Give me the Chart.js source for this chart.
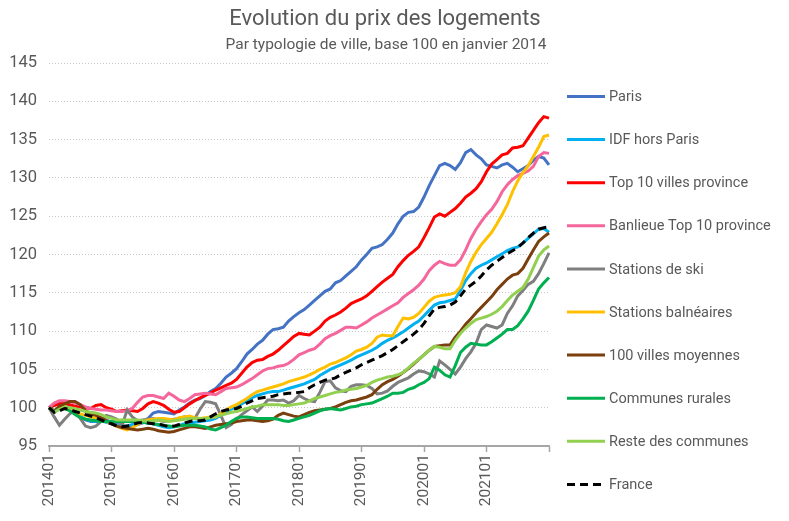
<!DOCTYPE html>
<html>
<head>
<meta charset="utf-8">
<script src="https://cdn.jsdelivr.net/npm/chart.js@4/dist/chart.umd.min.js"></script>
<style>
  html, body { margin: 0; padding: 0; background: #fff; }
  #wrap { width: 789px; height: 521px; position: relative; }
</style>
</head>
<body>
<div id="wrap"><canvas id="prixChart"></canvas></div>
<script>
const months = [
  '201401','201402','201403','201404','201405','201406','201407','201408','201409','201410','201411','201412',
  '201501','201502','201503','201504','201505','201506','201507','201508','201509','201510','201511','201512',
  '201601','201602','201603','201604','201605','201606','201607','201608','201609','201610','201611','201612',
  '201701','201702','201703','201704','201705','201706','201707','201708','201709','201710','201711','201712',
  '201801','201802','201803','201804','201805','201806','201807','201808','201809','201810','201811','201812',
  '201901','201902','201903','201904','201905','201906','201907','201908','201909','201910','201911','201912',
  '202001','202002','202003','202004','202005','202006','202007','202008','202009','202010','202011','202012',
  '202101','202102','202103','202104','202105','202106','202107','202108','202109','202110','202111','202112',
  '202201'
];

const paris = [100,100.3,100.6,100.5,100.0,99.3,98.8,98.4,98.2,98.2,
  98.5,98.4,98.1,97.8,97.6,97.5,97.6,97.8,98.0,98.6,
  99.3,99.5,99.4,99.3,99.2,99.7,100.1,100.6,101.0,101.2,
  101.6,102.1,102.5,103.2,104.0,104.5,105.1,106.0,107.0,107.6,
  108.3,108.8,109.6,110.2,110.3,110.5,111.3,111.9,112.4,112.8,
  113.4,114.0,114.6,115.2,115.5,116.3,116.6,117.2,117.8,118.4,
  119.3,120.0,120.8,121.0,121.3,122.0,122.8,124.0,125.0,125.5,
  125.6,126.2,127.5,129.0,130.3,131.6,131.9,131.6,131.1,132.0,
  133.3,133.7,133.0,132.5,131.7,131.5,131.3,131.7,131.9,131.4,
  130.8,131.2,131.6,132.3,132.8,132.6,131.7];

const idfHorsParis = [100,99.6,99.9,100.2,99.9,99.4,98.9,98.5,98.3,98.2,
  98.3,98.1,97.9,97.7,97.6,97.6,97.8,98.0,98.1,98.0,
  97.9,97.7,97.5,97.4,97.5,97.7,97.9,98.0,98.1,98.2,
  98.3,98.4,98.6,99.0,99.5,99.8,100.1,100.5,100.9,101.3,
  101.6,101.8,102.0,102.1,102.1,102.3,102.5,102.7,102.9,103.1,
  103.4,103.7,104.2,104.6,105.0,105.3,105.6,105.9,106.2,106.6,
  106.9,107.2,107.5,107.9,108.4,108.8,109.1,109.5,109.9,110.4,
  110.9,111.3,112.0,112.7,113.4,113.7,113.8,114.0,114.2,115.3,
  116.6,117.5,118.2,118.6,118.9,119.3,119.7,120.1,120.5,120.8,
  121.0,121.5,122.1,122.7,123.3,123.4,122.9];

const top10 = [100,100.3,100.5,100.6,100.4,100.2,100.1,100.0,99.9,100.3,
  100.4,100.0,99.8,99.5,99.6,99.7,99.6,99.5,99.9,100.5,
  100.8,100.6,100.3,99.8,99.4,99.5,100.0,100.5,100.9,101.3,
  101.6,101.9,102.3,102.6,102.9,103.2,103.7,104.5,105.3,105.9,
  106.2,106.3,106.7,107.0,107.5,108.1,108.7,109.3,109.7,109.6,
  109.5,110.0,110.5,111.3,111.8,112.1,112.5,113.0,113.6,113.9,
  114.2,114.6,115.2,115.8,116.4,116.9,117.4,118.4,119.2,119.9,
  120.4,121.0,122.2,123.5,124.9,125.3,125.0,125.5,126.0,126.7,
  127.5,128.0,128.6,129.5,130.8,131.8,132.4,133.0,133.2,133.9,
  134.0,134.2,135.2,136.2,137.2,138.0,137.8];

const banlieueTop10 = [100,100.6,100.9,100.9,100.8,100.6,100.4,100.1,99.9,99.8,
  99.7,99.7,99.6,99.5,99.5,99.6,99.9,100.7,101.4,101.6,
  101.6,101.4,101.2,101.9,101.5,101.0,100.8,101.2,101.7,101.8,
  101.9,101.8,101.7,102.1,102.5,102.6,102.7,103.0,103.4,103.8,
  104.3,104.8,105.1,105.2,105.4,105.5,105.8,106.3,106.9,107.2,
  107.5,107.7,108.3,109.0,109.4,109.7,110.1,110.5,110.5,110.4,
  110.8,111.2,111.7,112.1,112.5,112.9,113.3,113.7,114.4,114.9,
  115.4,116.0,116.8,117.9,118.6,119.1,118.8,118.6,118.6,119.3,
  120.6,122.1,123.3,124.3,125.2,125.9,126.9,128.2,129.1,129.8,
  130.3,130.6,130.9,131.5,132.8,133.3,133.2];

const stationsSki = [100,98.8,97.7,98.5,99.2,99.7,98.6,97.6,97.4,97.6,
  98.2,99.0,98.8,98.5,97.6,99.7,98.8,98.3,98.4,98.5,
  98.6,98.4,98.2,98.3,98.5,98.6,98.8,98.7,98.6,99.8,
  100.8,100.7,100.5,99.0,97.4,97.8,98.5,99.1,99.6,100.1,
  99.5,100.2,101.0,101.0,100.9,101.0,100.6,100.9,101.6,101.2,
  100.9,100.8,102.0,103.4,103.5,102.6,102.2,102.1,102.8,103.0,
  103.0,102.9,102.5,101.8,101.9,102.2,102.8,103.3,103.6,103.9,
  104.4,104.8,104.7,104.4,104.0,106.1,105.6,105.0,104.4,105.3,
  106.4,107.3,108.4,110.2,110.8,110.6,110.4,110.8,112.3,113.3,
  114.6,115.3,116.1,116.5,117.5,118.8,120.2];

const stationsBalneaires = [100,99.6,100.0,100.2,99.9,99.5,99.2,99.0,98.8,98.6,
  98.4,98.2,97.9,97.6,97.3,97.1,97.4,97.8,98.2,98.4,
  98.5,98.6,98.6,98.5,98.4,98.7,98.8,98.9,98.7,98.6,
  98.7,98.8,98.8,99.2,99.7,100.1,100.4,100.8,101.2,101.7,
  102.1,102.3,102.5,102.7,102.9,103.1,103.4,103.6,103.8,104.0,
  104.3,104.6,105.0,105.3,105.7,105.9,106.2,106.5,106.9,107.4,
  107.6,107.9,108.4,109.2,109.5,109.4,109.4,110.6,111.7,111.6,
  111.8,112.3,113.1,113.9,114.4,114.6,114.7,114.8,115.0,115.8,
  117.6,119.1,120.3,121.3,122.1,122.9,124.0,125.2,126.5,128.2,
  129.6,130.7,131.6,132.8,134.0,135.4,135.6];

const villesMoyennes = [100,99.6,100.2,100.5,100.8,100.8,100.4,99.6,99.2,99.0,
  98.7,98.3,97.9,97.6,97.4,97.3,97.2,97.1,97.2,97.3,
  97.2,97.0,96.9,96.8,96.9,97.1,97.3,97.5,97.5,97.4,
  97.3,97.5,97.7,97.8,97.9,98.0,98.2,98.3,98.4,98.4,
  98.3,98.2,98.3,98.5,99.0,99.3,99.1,98.9,98.8,99.1,
  99.4,99.6,99.7,99.8,99.9,100.1,100.4,100.7,100.9,101.0,
  101.2,101.4,101.7,102.4,103.0,103.4,103.7,104.1,104.6,105.1,
  105.7,106.3,106.9,107.5,108.0,108.1,108.2,108.2,109.2,110.0,
  110.9,111.6,112.4,113.1,113.8,114.5,115.4,116.1,116.8,117.3,
  117.5,118.2,119.4,120.6,121.7,122.3,122.8];

const communesRurales = [100,99.5,99.8,99.9,99.6,99.1,98.7,98.5,98.4,98.3,
  98.2,98.2,98.2,98.2,98.2,98.2,98.2,98.2,98.1,98.0,
  97.9,97.8,97.7,97.6,97.5,97.6,97.7,97.7,97.7,97.6,
  97.5,97.2,97.1,97.4,97.7,98.2,98.6,98.8,98.8,98.7,
  98.6,98.6,98.6,98.6,98.5,98.3,98.2,98.4,98.6,98.8,
  99.0,99.3,99.6,99.8,99.9,99.8,99.7,99.9,100.1,100.2,
  100.4,100.5,100.6,100.9,101.2,101.5,101.9,101.9,102.0,102.4,
  102.6,103.0,103.3,103.8,105.3,104.9,104.3,104.0,105.5,107.2,
  107.9,108.4,108.3,108.2,108.2,108.6,109.1,109.6,110.2,110.2,
  110.7,111.6,112.6,114.0,115.5,116.3,117.0];

const resteCommunes = [100,99.4,99.8,100.1,100.0,99.9,99.7,99.5,99.4,99.3,
  99.1,98.8,98.6,98.4,98.4,98.4,98.4,98.4,98.3,98.2,
  98.3,98.4,98.3,98.2,98.3,98.4,98.5,98.6,98.6,98.6,
  98.6,98.7,98.9,99.0,99.2,99.4,99.5,99.7,99.9,100.1,
  100.2,100.4,100.4,100.4,100.4,100.3,100.3,100.4,100.5,100.6,
  100.9,101.2,101.4,101.6,101.8,102.0,102.1,102.3,102.4,102.5,
  102.7,102.9,103.3,103.6,103.8,104.0,104.1,104.3,104.6,105.2,
  105.8,106.3,106.9,107.5,108.0,107.9,107.7,107.7,108.8,109.7,
  110.4,111.0,111.5,111.7,111.9,112.2,112.6,113.2,114.0,114.7,
  115.2,115.7,116.8,118.3,119.8,120.6,121.1];

const france = [100,99.4,99.6,99.9,99.8,99.5,99.3,99.1,98.9,98.7,
  98.4,98.1,97.9,97.6,97.5,97.6,97.8,98.0,98.1,98.0,
  97.9,97.9,97.7,97.5,97.6,97.8,98.0,98.2,98.3,98.3,
  98.4,98.8,99.2,99.5,99.7,99.8,99.9,100.2,100.6,100.9,
  101.2,101.3,101.4,101.5,101.7,101.8,101.9,101.9,102.0,102.1,
  102.6,103.0,103.3,103.6,103.7,103.9,104.3,104.6,104.9,105.2,
  105.6,105.9,106.2,106.5,106.8,107.2,107.6,108.1,108.6,109.1,
  109.6,110.2,111.0,112.0,112.9,113.1,113.2,113.4,113.8,114.6,
  115.5,116.0,116.5,117.2,118.0,118.6,119.1,119.6,120.1,120.5,
  120.9,121.5,122.2,122.8,123.3,123.5,123.6];

const seriesNames = ['Paris', 'IDF hors Paris', 'Top 10 villes province', 'Banlieue Top 10 province',
  'Stations de ski', 'Stations balnéaires', '100 villes moyennes', 'Communes rurales',
  'Reste des communes', 'France'];
const seriesData = [paris, idfHorsParis, top10, banlieueTop10, stationsSki,
  stationsBalneaires, villesMoyennes, communesRurales, resteCommunes, france];
const seriesColors = ['#4472C4', '#00B0F0', '#FF0000', '#F5669C', '#7F7F7F',
  '#FFC000', '#7B3F0E', '#00B050', '#92D050', '#000000'];

const textColor = '#595959';
const fontFamily = 'Roboto, "Liberation Sans", sans-serif';

// title, subtitle and the legend on the right
const decorPlugin = {
    id: 'decor',
    afterDraw(chart) {
        const ctx = chart.ctx;
        ctx.save();
        ctx.fillStyle = textColor;
        ctx.textAlign = 'center';
        ctx.textBaseline = 'middle';
        ctx.font = '22px ' + fontFamily;
        ctx.fillText('Evolution du prix des logements', 385, 19);
        ctx.font = '15.5px ' + fontFamily;
        ctx.fillText('Par typologie de ville, base 100 en janvier 2014', 386, 45);

        ctx.textAlign = 'left';
        ctx.font = '14.5px ' + fontFamily;
        chart.data.datasets.forEach((ds, i) => {
            const y = 96.5 + i * 43.1;
            ctx.beginPath();
            ctx.lineWidth = 3;
            ctx.strokeStyle = ds.borderColor;
            ctx.setLineDash(ds.borderDash || []);
            ctx.moveTo(567, y);
            ctx.lineTo(605, y);
            ctx.stroke();
            ctx.setLineDash([]);
            ctx.fillStyle = textColor;
            ctx.fillText(ds.label, 609, y + 1);
        });
        ctx.restore();
    }
};

const ctx = document.getElementById('prixChart').getContext('2d');
new Chart(ctx, {
    type: 'line',
    data: {
        labels: months,
        datasets: seriesNames.map((name, i) => ({
            label: name,
            data: seriesData[i],
            borderColor: seriesColors[i],
            backgroundColor: seriesColors[i],
            borderWidth: 3,
            borderDash: name === 'France' ? [8, 5] : [],
            pointRadius: 0,
            tension: 0,
            fill: false,
            order: seriesNames.length - i
        }))
    },
    options: {
        responsive: true,
        maintainAspectRatio: false,
        animation: false,
        layout: { padding: { top: 63, right: 240, bottom: 0, left: 0 } },
        plugins: {
            legend: { display: false },
            title: { display: false },
            tooltip: { enabled: false }
        },
        scales: {
            x: {
                afterFit(scale) { scale.height = 75; },
                grid: {
                    drawOnChartArea: false,
                    drawTicks: true,
                    tickLength: 6,
                    color: '#A6A6A6',
                    tickWidth: 1.5
                },
                border: { display: true, color: '#A6A6A6', width: 2 },
                ticks: {
                    autoSkip: false,
                    minRotation: 90,
                    maxRotation: 90,
                    padding: 2,
                    color: textColor,
                    font: { family: fontFamily, size: 15.5 },
                    callback(value, index) {
                        if (index === months.length - 1) return '';
                        return index % 12 === 0 ? months[index] : null;
                    }
                }
            },
            y: {
                min: 95,
                max: 145,
                afterFit(scale) { scale.width = 49; },
                grid: { color: '#C8C8C8', lineWidth: 1, drawTicks: false },
                border: { display: false, dash: [1, 2] },
                ticks: {
                    stepSize: 5,
                    padding: 12,
                    color: textColor,
                    font: { family: fontFamily, size: 16.5 }
                }
            }
        }
    },
    plugins: [decorPlugin]
});
</script>
</body>
</html>
